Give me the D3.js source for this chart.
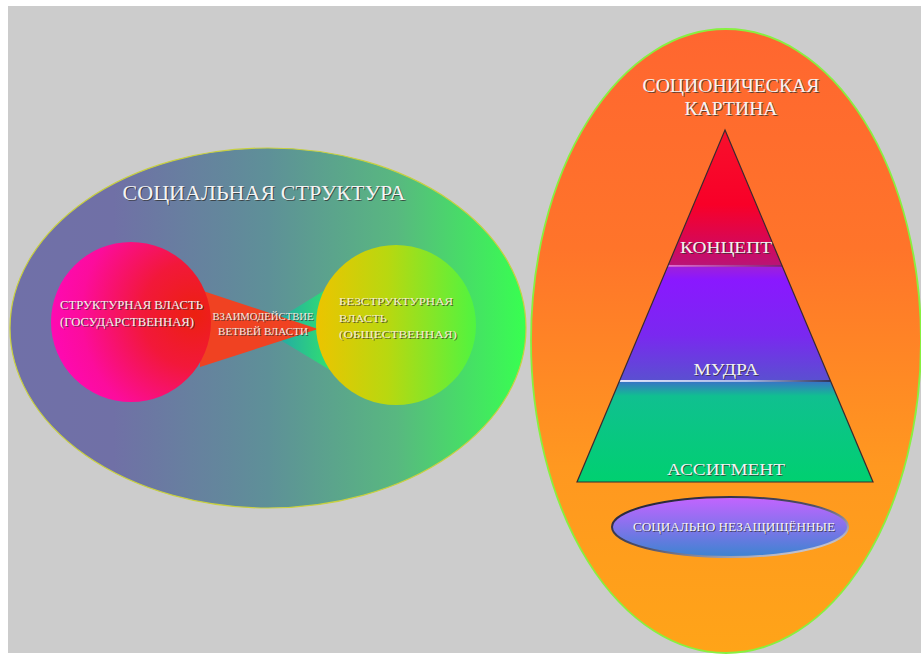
<!DOCTYPE html>
<html>
<head>
<meta charset="utf-8">
<script src="https://cdn.jsdelivr.net/npm/d3@7"></script>
<style>
  html, body { margin: 0; padding: 0; background: #fff; overflow: hidden; }
  text { font-family: "Liberation Serif", "DejaVu Serif", serif; }
</style>
</head>
<body>
<svg id="chart" width="921" height="656"></svg>
<script>
// left diagram: title and the two power blocks
const structureTitle = 'СОЦИАЛЬНАЯ СТРУКТУРА'
const powerBlocks = [
  {id: 'state', lines: ['СТРУКТУРНАЯ ВЛАСТЬ', '(ГОСУДАРСТВЕННАЯ)']},
  {id: 'public', lines: ['БЕЗСТРУКТУРНАЯ', 'ВЛАСТЬ', '(ОБЩЕСТВЕННАЯ)']}
]
const interactionLines = ['ВЗАИМОДЕЙСТВИЕ', 'ВЕТВЕЙ ВЛАСТИ']

// right diagram: pyramid levels, share of height measured from the apex
const pictureTitle = ['СОЦИОНИЧЕСКАЯ', 'КАРТИНА']
const levelNames = ['КОНЦЕПТ', 'МУДРА', 'АССИГМЕНТ']
const levelBounds = [0, 0.386, 0.713, 1]
const baseGroup = 'СОЦИАЛЬНО НЕЗАЩИЩЁННЫЕ'

const svg = d3.select('#chart')
const defs = svg.append('defs')

/**
 * Linear gradient helper
 */
function linGrad (id, stops, x2 = 1, y2 = 0) {
  let g = defs.append('linearGradient')
    .attr('id', id)
    .attr('x1', 0).attr('y1', 0)
    .attr('x2', x2).attr('y2', y2)
  stops.forEach(s => {
    g.append('stop').attr('offset', s[0]).attr('stop-color', s[1])
  })
  return `url(#${id})`
}

function radGrad (id, cx, cy, r, stops) {
  let g = defs.append('radialGradient')
    .attr('id', id)
    .attr('cx', cx).attr('cy', cy).attr('r', r)
  stops.forEach(s => {
    g.append('stop').attr('offset', s[0]).attr('stop-color', s[1])
  })
  return `url(#${id})`
}

// embossed light text: a dark copy shifted by one pixel, then the light one
// width stretches the glyphs to the width seen on the original slide
function embossText (parent, str, x, y, size, width, anchor = 'middle', fill = '#f4f4f4') {
  let copies = [[1, 1, '#303030', 0.75], [0, 0, fill, 1]]
  copies.forEach(c => {
    let t = parent.append('text')
      .text(str)
      .attr('x', x + c[0])
      .attr('y', y + c[1])
      .attr('text-anchor', anchor)
      .attr('fill', c[2])
      .attr('fill-opacity', c[3])
      .style('font-size', `${size}px`)
    if (width) {
      t.attr('textLength', width).attr('lengthAdjust', 'spacingAndGlyphs')
    }
  })
}

// page background
svg.append('rect')
  .attr('x', 8).attr('y', 6)
  .attr('width', 913).attr('height', 647)
  .attr('fill', '#cccccc')

/**
 * Left: social structure
 */
let left = svg.append('g').classed('structure', true)

left.append('ellipse')
  .attr('cx', 268).attr('cy', 328)
  .attr('rx', 258).attr('ry', 180)
  .attr('fill', linGrad('gOuter', [[0, '#7070a8'], [0.2, '#7070a6'], [0.5, '#5e9098'], [0.75, '#58b880'], [1, '#38ff50']]))
  .attr('stroke', '#c8d040')
  .attr('stroke-width', 1.2)

embossText(left, structureTitle, 264, 200, 20, 283)

// teal wedge behind the red one
left.append('path')
  .attr('d', d3.line()([[262, 329], [330, 287], [330, 370]]) + 'Z')
  .attr('fill', linGrad('gTeal', [[0, '#2098b8'], [1, '#30e070']]))

left.append('path')
  .attr('d', d3.line()([[200, 290], [318, 329], [200, 367]]) + 'Z')
  .attr('fill', '#f04222')

left.append('circle')
  .attr('cx', 131).attr('cy', 322).attr('r', 80)
  .attr('fill', radGrad('gState', 0.9, 0.45, 0.95, [[0, '#ec2010'], [0.35, '#f2183a'], [0.75, '#fc0c9c'], [1, '#ff08b8']]))

left.append('circle')
  .attr('cx', 396).attr('cy', 325).attr('r', 80)
  .attr('fill', linGrad('gPublic', [[0, '#ecc400'], [0.45, '#b8d810'], [1, '#50f440']]))

const stateWidths = [143, 134]
powerBlocks[0].lines.forEach((l, i) => {
  embossText(left, l, 60, 309 + i * 17, 12, stateWidths[i], 'start', '#f2f2f2')
})

const interWidths = [101, 90]
interactionLines.forEach((l, i) => {
  embossText(left, l, 263, 320 + i * 15, 10, interWidths[i], 'middle', '#f0e8e0')
})

const publicWidths = [114, 48, 118]
powerBlocks[1].lines.forEach((l, i) => {
  embossText(left, l, 339, 305 + i * 16.5, 11, publicWidths[i], 'start', '#f4eecc')
})

/**
 * Right: socionic picture
 */
let right = svg.append('g').classed('socionic', true)

right.append('ellipse')
  .attr('cx', 726).attr('cy', 341)
  .attr('rx', 195).attr('ry', 312)
  .attr('fill', linGrad('gOrange', [[0, '#ff6630'], [0.35, '#ff742a'], [0.7, '#ff9820'], [1, '#ffa418']], 0, 1))
  .attr('stroke', '#88f040')
  .attr('stroke-width', 1.8)

const titleWidths = [177, 93]
pictureTitle.forEach((l, i) => {
  embossText(right, l, 731, 92 + i * 23, 18, titleWidths[i])
})

// pyramid
const apexX = 725
const halfBase = 148
let py = d3.scaleLinear().domain([0, 1]).range([130, 482])
let halfW = d3.scaleLinear().domain([0, 1]).range([0, halfBase])

const levelFills = [
  linGrad('gL0', [[0, '#f8102c'], [0.55, '#f80028'], [0.85, '#d4085a'], [1, '#b81478']], 0, 1),
  linGrad('gL1', [[0, '#a020d8'], [0.12, '#8a18ff'], [0.6, '#7a28f0'], [1, '#5a50d0']], 0, 1),
  linGrad('gL2', [[0, '#3a70c8'], [0.15, '#10c090'], [1, '#00d070']], 0, 1)
]

levelNames.forEach((name, i) => {
  let t0 = levelBounds[i]
  let t1 = levelBounds[i + 1]
  let pts = [
    [apexX - halfW(t0), py(t0)],
    [apexX + halfW(t0), py(t0)],
    [apexX + halfW(t1), py(t1)],
    [apexX - halfW(t1), py(t1)]
  ]
  right.append('path')
    .attr('d', d3.line()(pts) + 'Z')
    .attr('fill', levelFills[i])
})

// divider lines between levels
const dividerStrokes = [
  linGrad('gD0', [[0, '#e070d0'], [1, '#802070']]),
  linGrad('gD1', [[0, '#f0f0ff'], [0.6, '#b0c0e8'], [1, '#303050']])
]
levelBounds.slice(1, -1).forEach((t, i) => {
  right.append('rect')
    .attr('x', apexX - halfW(t)).attr('width', 2 * halfW(t))
    .attr('y', py(t) - 0.9).attr('height', 1.8)
    .attr('fill', dividerStrokes[i])
})

// pyramid outline
right.append('path')
  .attr('d', d3.line()([[apexX, py(0)], [apexX + halfBase, py(1)], [apexX - halfBase, py(1)]]) + 'Z')
  .attr('fill', 'none')
  .attr('stroke', '#3a2a30')
  .attr('stroke-width', 1.2)

const levelWidths = [92, 65, 118]
const levelLift = [13, 6, 7]
levelNames.forEach((name, i) => {
  embossText(right, name, apexX + 1, py(levelBounds[i + 1]) - levelLift[i], 17, levelWidths[i], 'middle', '#f2f2f2')
})

// base group ellipse
right.append('ellipse')
  .attr('cx', 730).attr('cy', 527)
  .attr('rx', 118).attr('ry', 30)
  .attr('fill', linGrad('gBase', [[0, '#c464ff'], [0.4, '#9070f0'], [1, '#3c84d0']], 0, 1))
  .attr('stroke', linGrad('gBaseEdge', [[0, '#1a1a2a'], [0.5, '#50506a'], [1, '#f0f0f8']], 1, 1))
  .attr('stroke-width', 2)

embossText(right, baseGroup, 734, 531, 12, 202, 'middle', '#f4f4f8')
</script>
</body>
</html>
